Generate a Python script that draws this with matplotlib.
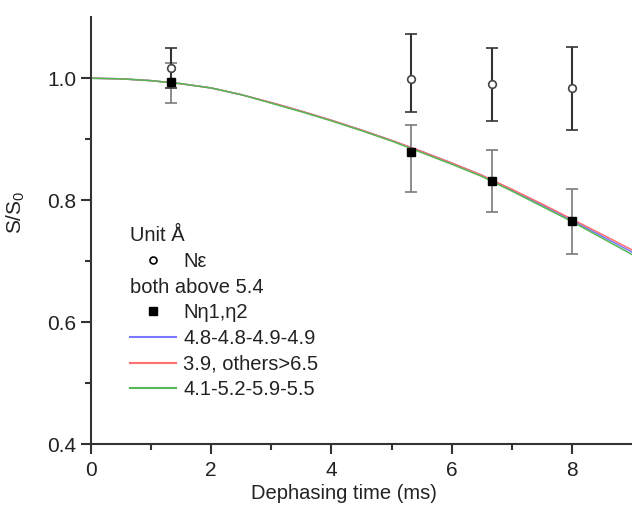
import numpy as np
import matplotlib
matplotlib.use("Agg")
import matplotlib.pyplot as plt
from matplotlib.lines import Line2D

plt.rcParams['font.family'] = ['Liberation Sans', 'DejaVu Sans']
plt.rcParams['mathtext.fontset'] = 'custom'
plt.rcParams['mathtext.rm'] = 'Liberation Sans'

## data
t_pts = [1.33, 5.33, 6.67, 8.0]

# N epsilon (open circles, black error bars)
ne_y = [1.016, 0.998, 0.990, 0.984]
ne_lo = [0.984, 0.945, 0.930, 0.915]
ne_hi = [1.050, 1.073, 1.049, 1.051]

# N eta1,eta2 (filled squares, grey error bars)
nh_y = [0.993, 0.879, 0.832, 0.766]
nh_lo = [0.960, 0.814, 0.781, 0.711]
nh_hi = [1.025, 0.923, 0.882, 0.819]

# simulated curves
t_sim = [0, 0.5, 1, 1.5, 2, 2.5, 3, 3.5, 4, 4.5, 5, 5.5, 6, 6.5, 7, 7.5, 8, 8.5, 9]
blue_y = [1.000, 0.999, 0.996, 0.991, 0.984, 0.973, 0.960, 0.946, 0.931, 0.915,
          0.898, 0.880, 0.861, 0.841, 0.817, 0.792, 0.767, 0.741, 0.715]
red_y = [1.000, 0.999, 0.996, 0.991, 0.984, 0.973, 0.960, 0.946, 0.931, 0.915,
         0.898, 0.880, 0.861, 0.841, 0.818, 0.794, 0.769, 0.744, 0.7185]
green_y = [1.000, 0.999, 0.996, 0.991, 0.984, 0.973, 0.959, 0.945, 0.930, 0.914,
           0.897, 0.878, 0.859, 0.839, 0.815, 0.790, 0.765, 0.738, 0.711]

labels = ['Unit Å', 'Nε', 'both above 5.4', 'Nη1,η2',
          '4.8-4.8-4.9-4.9', '3.9, others>6.5', '4.1-5.2-5.9-5.5']

blue = '#7777ff'
red = '#ff6f6f'
green = '#55b855'
axcol = '#333333'
txtcol = '#222222'

fig = plt.figure(figsize=(6.32, 5.07), dpi=100)
ax = fig.add_axes([0.144, 0.124, 0.856, 0.842])

ax.plot(t_sim, blue_y, color=blue, lw=1.1)
ax.plot(t_sim, red_y, color=red, lw=1.1)
ax.plot(t_sim, green_y, color=green, lw=1.1)

nh_err = [np.array(nh_y) - np.array(nh_lo), np.array(nh_hi) - np.array(nh_y)]
ax.errorbar(t_pts, nh_y, yerr=nh_err, fmt='s', color='black', ms=5.5,
            ecolor='#7a7a7a', elinewidth=1.2, capsize=4.5, capthick=1.2)
ne_err = [np.array(ne_y) - np.array(ne_lo), np.array(ne_hi) - np.array(ne_y)]
ax.errorbar(t_pts, ne_y, yerr=ne_err, fmt='o', mfc='white', mec='#444444', mew=1.2,
            ms=5.5, ecolor='#333333', elinewidth=1.5, capsize=4.5, capthick=1.5)

ax.set_xlim(0, 9)
ax.set_ylim(0.4, 1.1)
ax.set_xticks([0, 2, 4, 6, 8])
ax.set_xticks([1, 3, 5, 7], minor=True)
ax.set_yticks([0.4, 0.6, 0.8, 1.0])
ax.set_yticks([0.5, 0.7, 0.9], minor=True)
ax.yaxis.set_major_formatter(matplotlib.ticker.FormatStrFormatter('%.1f'))

for s in ['top', 'right']:
    ax.spines[s].set_visible(False)
for s in ['left', 'bottom']:
    ax.spines[s].set_color(axcol)
    ax.spines[s].set_linewidth(1.5)
ax.tick_params(which='major', direction='out', length=7, width=1.5, color=axcol,
               labelsize=15, labelcolor=txtcol)
ax.tick_params(which='minor', direction='out', length=4, width=1.5, color=axcol)
ax.tick_params(axis='x', pad=5)

ax.set_xlabel('Dephasing time (ms)', fontsize=14.5, color=txtcol)
ax.xaxis.set_label_coords(0.468, -0.094)
ax.set_ylabel('S/S$_\\mathregular{0}$', fontsize=15, color=txtcol)
ax.yaxis.set_label_coords(-0.118, 0.543)

blank = Line2D([], [], linestyle='none', marker=None)
handles = [blank,
           Line2D([], [], linestyle='none', marker='o', mfc='white', mec='black', mew=1.2, ms=5),
           blank,
           Line2D([], [], linestyle='none', marker='s', color='black', ms=5.5),
           Line2D([], [], color=blue, lw=1.5),
           Line2D([], [], color=red, lw=1.5),
           Line2D([], [], color=green, lw=1.5)]
fs = 14.5
hl, hp = 2.3, 0.35
leg = ax.legend(handles, labels, loc='upper left', bbox_to_anchor=(0.072, 0.51),
                frameon=False, fontsize=fs, handlelength=hl, handletextpad=hp,
                labelspacing=0.33, borderpad=0, borderaxespad=0, numpoints=1)
for txt in leg.get_texts():
    txt.set_color(txtcol)
# title-like rows start at the handle column
shift = (hl + hp) * fs * fig.dpi / 72.0
for i in (0, 2):
    leg.get_texts()[i].set_position((-shift, 0))

fig.savefig('out.png', dpi=100)
